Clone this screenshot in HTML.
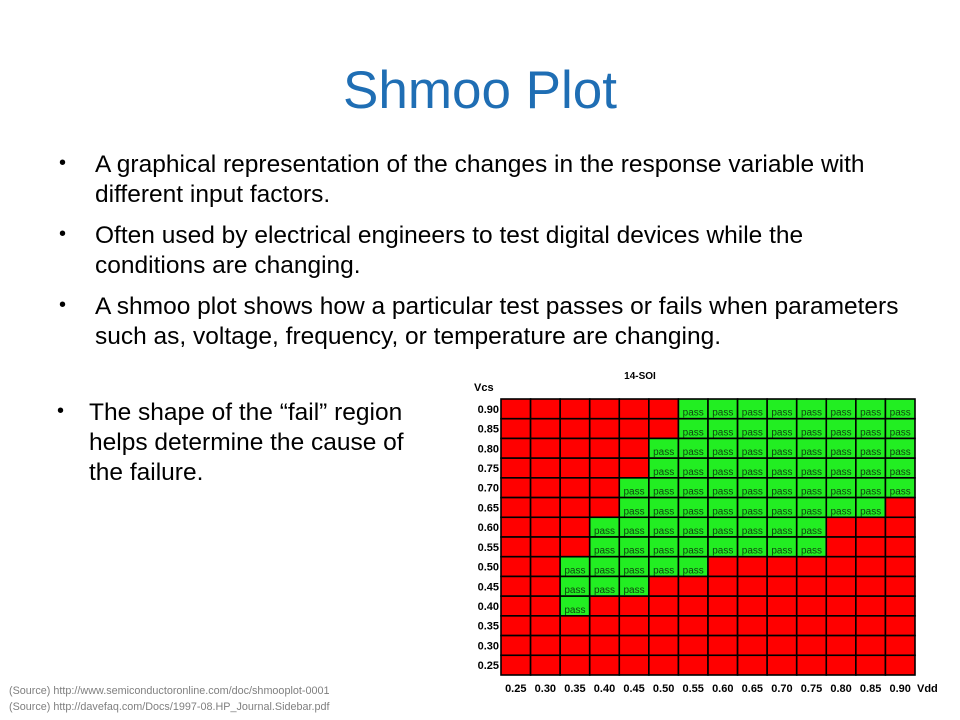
<!DOCTYPE html>
<html><head><meta charset="utf-8"><style>
body{margin:0;width:960px;height:720px;background:#fff;overflow:hidden;position:relative;font-family:"Liberation Sans",sans-serif;}
.t{position:absolute;white-space:nowrap;color:#000;font-size:24.5px;line-height:28px;letter-spacing:0px;}
.b{position:absolute;font-size:20px;}
#title{position:absolute;left:0;width:960px;top:60px;text-align:center;color:#1f6eb4;font-size:53px;}
.src{position:absolute;left:9px;font-size:10.8px;color:#7f7f7f;white-space:nowrap;}
</style></head><body>
<div id="title">Shmoo Plot</div>
<div class="b" style="left:59px;top:152px">•</div>
<div class="t" style="left:95px;top:151px">A graphical representation of the changes in the response variable with</div>
<div class="t" style="left:95px;top:181px">different input factors.</div>
<div class="b" style="left:59px;top:223px">•</div>
<div class="t" style="left:95px;top:222px">Often used by electrical engineers to test digital devices while the</div>
<div class="t" style="left:95px;top:252px">conditions are changing.</div>
<div class="b" style="left:59px;top:294px">•</div>
<div class="t" style="left:95px;top:293px">A shmoo plot shows how a particular test passes or fails when parameters</div>
<div class="t" style="left:95px;top:323px">such as, voltage, frequency, or temperature are changing.</div>
<div class="b" style="left:57px;top:400px">•</div>
<div class="t" style="left:89px;top:399px">The shape of the “fail” region</div>
<div class="t" style="left:89px;top:429px">helps determine the cause of</div>
<div class="t" style="left:89px;top:459px">the failure.</div>
<div class="src" style="top:685px">(Source) http://www.semiconductoronline.com/doc/shmooplot-0001</div>
<div class="src" style="top:701px">(Source) http://davefaq.com/Docs/1997-08.HP_Journal.Sidebar.pdf</div>
<svg id="chart" width="960" height="720" style="position:absolute;left:0;top:0"></svg>
<script>
const vdd=["0.25","0.30","0.35","0.40","0.45","0.50","0.55","0.60","0.65","0.70","0.75","0.80","0.85","0.90"];
const vcs=["0.90","0.85","0.80","0.75","0.70","0.65","0.60","0.55","0.50","0.45","0.40","0.35","0.30","0.25"];
// pass range per Vcs row: [first pass column index, last pass column index], null = all fail
const passStart=[6,6,5,5,4,4,3,3,2,2,2,null,null,null];
const passEnd=[13,13,13,13,13,12,10,10,6,4,2,null,null,null];
const X0=501,X1=915,Y0=399,Y1=675;
const cw=(X1-X0)/vdd.length,ch=(Y1-Y0)/vcs.length;
const xs=i=>X0+i*cw, ys=j=>Y0+j*ch;
const svg=document.getElementById('chart');
const NS='http://www.w3.org/2000/svg';
function mk(tag,attrs,txt){const e=document.createElementNS(NS,tag);for(const k in attrs)e.setAttribute(k,attrs[k]);if(txt!=null)e.textContent=txt;svg.appendChild(e);return e;}
const title=mk('text',{x:640,y:379,'font-size':10,'font-weight':'bold','text-anchor':'middle','font-family':'Liberation Sans'},'14-SOI');


const yt=mk('text',{x:474,y:391,'font-size':11,'font-weight':'bold','font-family':'Liberation Sans'},'Vcs');


const xt=mk('text',{x:917,y:692,'font-size':11,'font-weight':'bold','font-family':'Liberation Sans'},'Vdd');


mk('rect',{x:X0,y:Y0,width:X1-X0,height:Y1-Y0,fill:'#f00'});
for(let j=0;j<vcs.length;j++){
  const l=mk('text',{x:499,y:ys(j)+ch/2+4,'font-size':11,'font-weight':'bold','text-anchor':'end','font-family':'Liberation Sans'},vcs[j]);
  
  
  for(let i=0;i<vdd.length;i++){
    const pass=passStart[j]!=null&&i>=passStart[j]&&i<=passEnd[j];
    const c=mk('rect',{x:xs(i),y:ys(j),width:cw,height:ch,fill:pass?'#22ee22':'#ff0000',stroke:'#000','stroke-width':1.6});
    
    
    if(pass){
      const t=mk('text',{x:xs(i)+cw/2,y:ys(j)+ch-3,'font-size':10,'text-anchor':'middle',fill:'#114411','font-family':'Liberation Sans'},'pass');
      
      
    }
  }
}
for(let i=0;i<vdd.length;i++){
  const l=mk('text',{x:xs(i)+cw/2,y:692,'font-size':11,'font-weight':'bold','text-anchor':'middle','font-family':'Liberation Sans'},vdd[i]);
  
  
}
</script>
</body></html>
